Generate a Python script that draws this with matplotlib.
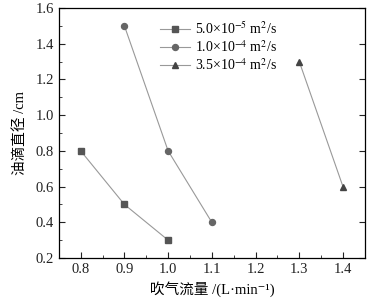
import matplotlib
matplotlib.use('Agg')
import matplotlib.pyplot as plt
from matplotlib.ticker import MultipleLocator

plt.rcParams['font.family'] = ['Liberation Serif', 'Noto Sans CJK SC']
plt.rcParams['mathtext.fontset'] = 'stix'

x1 = [0.8, 0.9, 1.0]
y1 = [0.8, 0.5, 0.3]
x2 = [0.9, 1.0, 1.1]
y2 = [1.5, 0.8, 0.4]
x3 = [1.3, 1.4]
y3 = [1.3, 0.6]
labels = ['5.0×10$^{-5}$ m$^2$/s', '1.0×10$^{-4}$ m$^2$/s', '3.5×10$^{-4}$ m$^2$/s']

fig = plt.figure(figsize=(3.82, 3.05), dpi=100)
ax = fig.add_axes([0.154, 0.154, 0.801, 0.820])

line_c = '#999999'
ax.plot(x1, y1, color=line_c, lw=0.8, marker='s', ms=3.8, mfc='#555555', mec='#555555', label=labels[0])
ax.plot(x2, y2, color=line_c, lw=0.8, marker='o', ms=4.3, mfc='#666666', mec='#666666', label=labels[1])
ax.plot(x3, y3, color=line_c, lw=0.8, marker='^', ms=5, mfc='#444444', mec='#444444', label=labels[2])

ax.set_xlim(0.75, 1.45)
ax.set_ylim(0.2, 1.6)
ax.xaxis.set_major_locator(MultipleLocator(0.1))
ax.xaxis.set_minor_locator(MultipleLocator(0.05))
ax.yaxis.set_major_locator(MultipleLocator(0.2))
ax.yaxis.set_minor_locator(MultipleLocator(0.1))
ax.xaxis.set_major_formatter(plt.FuncFormatter(lambda v, p: '%.1f' % v))
ax.yaxis.set_major_formatter(plt.FuncFormatter(lambda v, p: '%.1f' % v))
ax.tick_params(which='both', direction='in', labelsize=10.5, colors='#222222')
ax.tick_params(axis='y', which='major', right=True, length=4)
ax.tick_params(axis='x', which='major', length=4)
ax.tick_params(which='minor', length=2.5)
for lbl in ax.get_xticklabels() + ax.get_yticklabels():
    lbl.set_family('Liberation Serif')
for s in ax.spines.values():
    s.set_linewidth(0.9)

ax.set_xlabel('吹气流量 /(L·min⁻¹)', fontsize=10.5, labelpad=4,
              family=['Liberation Serif', 'Noto Sans CJK SC', 'DejaVu Sans'])
ax.set_ylabel('油滴直径 /cm', fontsize=10.5, labelpad=6,
              family=['Liberation Serif', 'Noto Sans CJK SC'])

ax.legend(loc='upper left', bbox_to_anchor=(0.33, 0.95), frameon=False,
          borderpad=0, borderaxespad=0,
          fontsize=10, handlelength=2.2, labelspacing=0.15, handletextpad=0.3)

fig.savefig('out.png', dpi=100)
